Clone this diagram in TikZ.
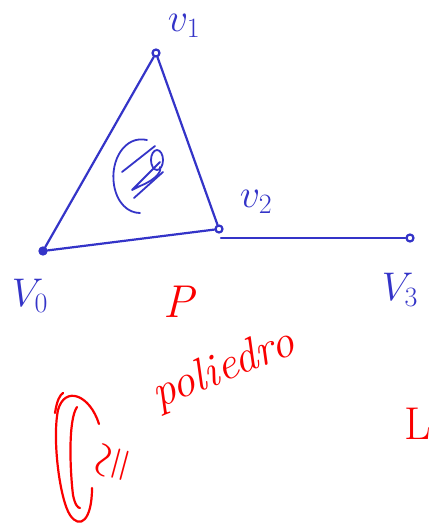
\RequirePackage{fix-cm}
\documentclass[tikz,border=0pt]{standalone}
\begin{document}
\begin{tikzpicture}[x=1pt,y=-1pt,line cap=round,line join=round,
  pen/.style={draw=inkblue,line width=2.2pt},
  redpen/.style={draw=inkred,line width=2.2pt},
  vtx/.style={circle,draw=inkblue,line width=2.2pt,inner sep=0pt,minimum size=7pt},
  bluelbl/.style={text=inkblue,inner sep=0pt,font=\fontsize{40}{40}\selectfont},
  redlbl/.style={text=inkred,font=\fontsize{46}{46}\selectfont\itshape}]
\definecolor{inkblue}{RGB}{52,52,200}
\definecolor{inkred}{RGB}{250,0,0}
\clip (0,0) rectangle (430,531);
\fill[white] (0,0) rectangle (430,531);
% vertices
\node[vtx,fill=inkblue] (v0) at (43,251) {};
\node[vtx] (v1) at (156,53) {};
\node[vtx] (v2) at (219,229) {};
\node[vtx] (v3) at (410,238) {};
\coordinate (v2b) at (221,238);
% edges
\draw[pen] (v0) -- (v1);
\draw[pen] (v1) -- (v2);
\draw[pen] (v2) -- (v0);
\draw[pen] (v2b) -- (v3);
% labels
\node[bluelbl] (l1) at (184,26) {$v_1$};
\node[bluelbl] (l2) at (256,202) {$v_2$};
\node[bluelbl] (l0) at (30,296) {$V_0$};
\node[bluelbl] (l3) at (400,290) {$V_3$};
% scribble in triangle
\draw[pen,line width=1.8pt] (147,140) .. controls (125,135) and (110,160) .. (114,185) .. controls (117,203) and (128,213) .. (140,213);
\draw[pen,line width=1.8pt] (157,160) ellipse (6 and 10);
\draw[pen,line width=1.8pt] (122,172) -- (155,146);
\draw[pen,line width=1.8pt] (160,162) -- (132,190) -- (140,186) .. controls (155,180) and (162,172) .. (160,167);
\draw[pen,line width=1.8pt] (134,198) -- (163,172);
% red part
\node[redlbl] (p) at (179,302) {P};
\node[redlbl,rotate=22,anchor=base west] (poli) at (155,410) {poliedro};
\node[text=inkred,font=\fontsize{48}{48}\selectfont,rotate=75] (cong) at (115,463) {$\cong$};
\node[text=inkred,font=\fontsize{46}{46}\selectfont,anchor=east,inner sep=0pt] (L) at (431,424) {L};
\draw[redpen] (99,424) .. controls (90,395) and (65,385) .. (58,410) .. controls (52,440) and (60,500) .. (70,515) .. controls (80,530) and (92,520) .. (92,488);
\draw[redpen] (77,407) .. controls (68,420) and (70,470) .. (73,495) .. controls (75,505) and (78,508) .. (80,508);
\draw[redpen] (55,413) .. controls (57,400) and (60,395) .. (63,393);
\end{tikzpicture}
\end{document}
